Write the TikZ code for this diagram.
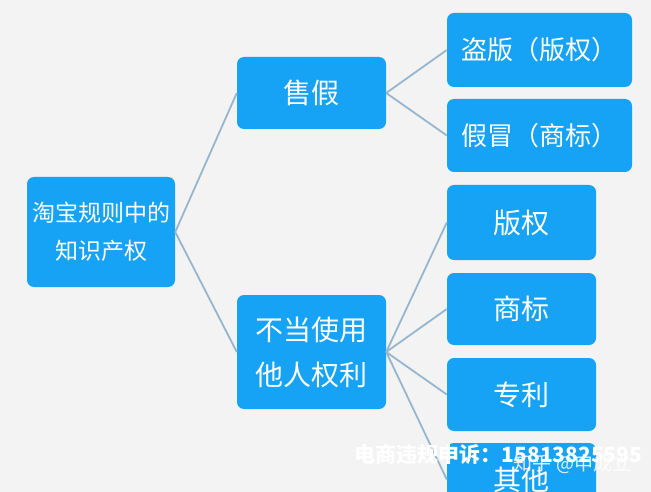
\documentclass[tikz,border=0pt]{standalone}
\usepackage{fontspec}
\setmainfont{Noto Sans CJK SC}
\definecolor{boxblue}{RGB}{22,162,245}
\definecolor{linkgray}{RGB}{150,182,208}
\definecolor{paper}{RGB}{243,243,243}

\begin{document}
\begin{tikzpicture}[x=1pt, y=-1pt,
		topic/.style={fill=boxblue, rounded corners=7pt, text=white, inner sep=0pt, align=center},
		link/.style={draw=linkgray, line width=1.8pt}]
		%%%%% START %%%%%
		
		\useasboundingbox (0, 0) rectangle (651, 492);
		\clip (0, 0) rectangle (651, 492);
		\fill[paper] (0, 0) rectangle (651, 492);
		
		\node[topic, minimum width=148pt, minimum height=110pt, font=\fontsize{23}{38}\selectfont] (root) at (101, 232) {淘宝规则中的\\知识产权};
		
		\node[topic, minimum width=149pt, minimum height=72pt, font=\fontsize{28}{36}\selectfont] (sale) at (311.5, 93) {售假};
		\node[topic, minimum width=149pt, minimum height=114pt, font=\fontsize{28}{45}\selectfont] (misuse) at (311.5, 352) {不当使用\\他人权利};
		
		\node[topic, minimum width=185pt, minimum height=74pt, font=\fontsize{26}{30}\selectfont] (piracy) at (539.5, 50) {盗版（版权）};
		\node[topic, minimum width=185pt, minimum height=73pt, font=\fontsize{26}{30}\selectfont] (fake) at (539.5, 135.5) {假冒（商标）};
		
		\node[topic, minimum width=149pt, minimum height=75pt, font=\fontsize{28}{36}\selectfont] (copyright) at (521.5, 222.5) {版权};
		\node[topic, minimum width=149pt, minimum height=72pt, font=\fontsize{28}{36}\selectfont] (trademark) at (521.5, 309) {商标};
		\node[topic, minimum width=149pt, minimum height=73pt, font=\fontsize{28}{36}\selectfont] (patent) at (521.5, 394.5) {专利};
		\node[topic, minimum width=149pt, minimum height=73pt, font=\fontsize{28}{36}\selectfont] (other) at (521.5, 479.5) {其他};
		
		\draw[link] (root.east) -- (sale.west);
		\draw[link] (root.east) -- (misuse.west);
		
		\draw[link] (sale.east) -- (piracy.west);
		\draw[link] (sale.east) -- (fake.west);
		
		\draw[link] (misuse.east) -- (copyright.west);
		\draw[link] (misuse.east) -- (trademark.west);
		\draw[link] (misuse.east) -- (patent.west);
		\draw[link] (misuse.east) -- (other.west);
		
		\node[text=white, inner sep=0pt, font=\bfseries\fontsize{21}{21}\selectfont] (hotline) at (498.5, 454) {电商违规申诉：15813825595};
		\node[text=white, opacity=0.85, inner sep=0pt, font=\fontsize{19}{19}\selectfont] (mark) at (572.5, 464) {知乎 @申成立};
		
		%%%%% END %%%%%
	\end{tikzpicture}
\end{document}
